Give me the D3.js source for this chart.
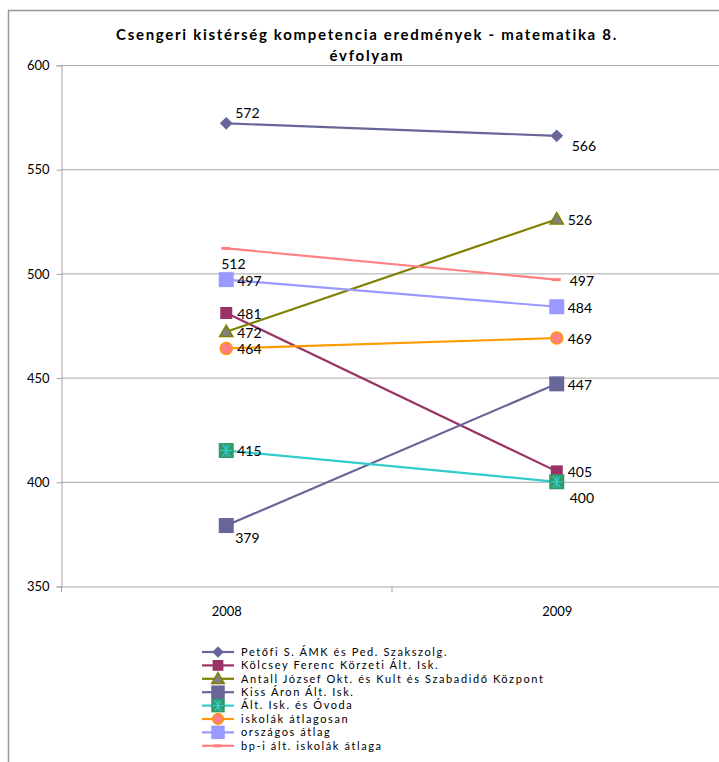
<!DOCTYPE html>
<html>
<head>
<meta charset="utf-8">
<script src="https://cdn.jsdelivr.net/npm/d3@7"></script>
<style>
  body { margin: 0; background: #fff; }
  text { font-family: Lato, "Open Sans", sans-serif; }
</style>
</head>
<body>
<div id="chart"></div>
<script>
// data
const years = ["2008", "2009"];
const seriesNames = [
  "Petőfi S. ÁMK és Ped. Szakszolg.",
  "Kölcsey Ferenc Körzeti Ált. Isk.",
  "Antall József Okt. és Kult és Szabadidő Központ",
  "Kiss Áron Ált. Isk.",
  "Ált. Isk. és Óvoda",
  "iskolák átlagosan",
  "országos átlag",
  "bp-i ált. iskolák átlaga"
];
const values = [
  [572, 566],
  [481, 405],
  [472, 526],
  [379, 447],
  [415, 400],
  [464, 469],
  [497, 484],
  [512, 497]
];
const yTicks = [350, 400, 450, 500, 550, 600];

const lineColors = ["#666699", "#993366", "#808000", "#666699", "#33CCCC", "#FF9900", "#9999FF", "#FF8080"];
const markerKinds = ["diamond", "square", "triangle", "bigsquare", "star", "circle", "bigsquare", "dash"];
const markerFill = ["#666699", "#993366", "#808080", "#666699", "#339966", "#FF8080", "#9999FF", "#FF8080"];
const markerStroke = ["#666699", "#993366", "#808000", "#666699", "#339966", "#FF9900", "#9999FF", "#FF8080"];
// label placement per series per year: [dx, dy]
const labelOffset = [
  [[9, -10], [15, 10]],
  [[11, 1], [11, 1]],
  [[11, 1], [11, 1]],
  [[9, 13], [11, 1]],
  [[11, 1], [13, 16]],
  [[11, 1], [11, 1]],
  [[11, 1], [11, 1]],
  [[-5, 16], [13, 1]]
];

const width = 719, height = 762;
const plot = {left: 61, right: 722, top: 65, bottom: 586};

const svg = d3.select("#chart").append("svg")
  .attr("width", width).attr("height", height);

// outer frame
svg.append("rect")
  .attr("x", 8.5).attr("y", 10.5)
  .attr("width", 760).attr("height", 800)
  .attr("fill", "none").attr("stroke", "#999").attr("stroke-width", 1.5);

const x = d3.scalePoint().domain(years).range([plot.left, plot.right]).padding(0.5);
const y = d3.scaleLinear().domain([350, 600]).range([plot.bottom, plot.top]);

// gridlines
svg.append("g").selectAll("line")
  .data(yTicks.filter(t => t > 350))
  .join("line")
  .attr("x1", plot.left).attr("x2", plot.right)
  .attr("y1", d => y(d) + 0.5).attr("y2", d => y(d) + 0.5)
  .attr("stroke", "#a6a6a6");

// y axis
const yAxis = svg.append("g")
  .attr("transform", `translate(${plot.left + 0.5},0.5)`)
  .call(d3.axisLeft(y).tickValues(yTicks).tickSize(5).tickPadding(7).tickFormat(d3.format("d")));
yAxis.select(".domain").attr("stroke", "#a6a6a6");
yAxis.selectAll(".tick line").attr("stroke", "#a6a6a6");
yAxis.selectAll("text").attr("font-size", 13).attr("fill", "#000")
  .style("font-family", "Lato, sans-serif");

// x axis
const xAxis = svg.append("g")
  .attr("transform", `translate(0,${plot.bottom + 0.5})`)
  .call(d3.axisBottom(x).tickSize(0).tickPadding(20));
xAxis.select(".domain").attr("stroke", "#a6a6a6");
xAxis.selectAll("text").attr("font-size", 13).attr("fill", "#000")
  .style("font-family", "Lato, sans-serif");
// category boundary ticks
svg.append("g").selectAll("line")
  .data([plot.left, (plot.left + plot.right) / 2])
  .join("line")
  .attr("x1", d => d + 0.5).attr("x2", d => d + 0.5)
  .attr("y1", plot.bottom).attr("y2", plot.bottom + 6)
  .attr("stroke", "#a6a6a6");

// title
svg.append("text")
  .attr("x", 367).attr("y", 40)
  .attr("text-anchor", "middle")
  .attr("font-size", 15).attr("font-weight", "bold")
  .attr("letter-spacing", "1.7px")
  .text("Csengeri kistérség kompetencia eredmények - matematika 8.");
svg.append("text")
  .attr("x", 367).attr("y", 61)
  .attr("text-anchor", "middle")
  .attr("font-size", 15).attr("font-weight", "bold")
  .attr("letter-spacing", "1.7px")
  .text("évfolyam");

function drawMarker(g, i, cx, cy, scale) {
  const k = markerKinds[i];
  const s = scale || 1;
  const fill = markerFill[i], stroke = markerStroke[i];
  if (k === "diamond") {
    g.append("rect").attr("x", -4.5 * s).attr("y", -4.5 * s)
      .attr("width", 9 * s).attr("height", 9 * s)
      .attr("transform", `translate(${cx},${cy}) rotate(45)`).attr("fill", fill);
  } else if (k === "square") {
    g.append("rect").attr("x", cx - 6 * s).attr("y", cy - 6 * s)
      .attr("width", 12 * s).attr("height", 12 * s).attr("fill", fill);
  } else if (k === "bigsquare") {
    g.append("rect").attr("x", cx - 7.5 * s).attr("y", cy - 7.5 * s)
      .attr("width", 15 * s).attr("height", 15 * s).attr("fill", fill);
  } else if (k === "triangle") {
    g.append("path").attr("d", d3.symbol(d3.symbolTriangle, 75 * s)())
      .attr("transform", `translate(${cx},${cy + 1})`)
      .attr("fill", fill).attr("stroke", stroke).attr("stroke-width", 1.5);
  } else if (k === "star") {
    g.append("rect").attr("x", cx - 7.5 * s).attr("y", cy - 7.5 * s)
      .attr("width", 15 * s).attr("height", 15 * s).attr("fill", fill);
    const r = 6 * s;
    const arms = [[-r, 0, r, 0], [-r * 0.6, -r, r * 0.6, r], [-r * 0.6, r, r * 0.6, -r], [0, -r, 0, r]];
    g.selectAll(null).data(arms).join("line")
      .attr("x1", d => cx + d[0]).attr("y1", d => cy + d[1])
      .attr("x2", d => cx + d[2]).attr("y2", d => cy + d[3])
      .attr("stroke", "#33CCCC").attr("stroke-width", 1.2);
  } else if (k === "circle") {
    g.append("circle").attr("cx", cx).attr("cy", cy).attr("r", 6 * s)
      .attr("fill", fill).attr("stroke", stroke).attr("stroke-width", 1.5);
  } else if (k === "dash") {
    g.append("line").attr("x1", cx - 5 * s).attr("x2", cx + 4 * s)
      .attr("y1", cy).attr("y2", cy)
      .attr("stroke", fill).attr("stroke-width", 3);
  }
}

const line = d3.line().x((d, j) => x(years[j])).y(d => y(d));

// series
values.forEach((vals, i) => {
  const g = svg.append("g");
  g.append("path").datum(vals)
    .attr("d", line)
    .attr("fill", "none")
    .attr("stroke", lineColors[i])
    .attr("stroke-width", 2.2);
  vals.forEach((v, j) => drawMarker(g, i, x(years[j]), y(v)));
});

// data labels on top
values.forEach((vals, i) => {
  vals.forEach((v, j) => {
    const off = labelOffset[i][j];
    svg.append("text")
      .attr("x", x(years[j]) + off[0])
      .attr("y", y(v) + off[1])
      .attr("dy", "0.35em")
      .attr("font-size", 14)
      .text(v);
  });
});

// legend
const legend = svg.append("g").attr("transform", "translate(202,652)");
seriesNames.forEach((name, i) => {
  const row = legend.append("g").attr("transform", `translate(0,${i * 13.4})`);
  row.append("line").attr("x1", 0).attr("x2", 32).attr("y1", 0).attr("y2", 0)
    .attr("stroke", lineColors[i]).attr("stroke-width", 2.2);
  drawMarker(row, i, 16, 0, 0.9);
  row.append("text")
    .attr("x", 39).attr("y", 0).attr("dy", "0.35em")
    .attr("font-size", 11)
    .attr("letter-spacing", "1.6px")
    .text(name);
});
</script>
</body>
</html>
